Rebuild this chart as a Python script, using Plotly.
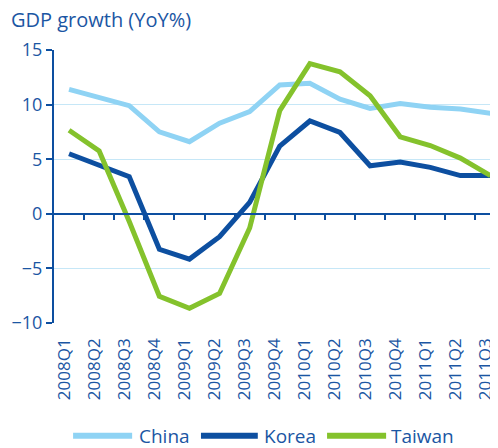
import plotly.graph_objects as go

quarters = ["2008Q1", "2008Q2", "2008Q3", "2008Q4", "2009Q1", "2009Q2", "2009Q3", "2009Q4",
            "2010Q1", "2010Q2", "2010Q3", "2010Q4", "2011Q1", "2011Q2", "2011Q3"]
china = [11.4, 10.7, 9.9, 7.5, 6.6, 8.3, 9.35, 11.8, 11.95, 10.5, 9.65, 10.1, 9.75, 9.6, 9.2]
korea = [5.5, 4.4, 3.4, -3.25, -4.15, -2.1, 1.05, 6.2, 8.5, 7.45, 4.4, 4.75, 4.25, 3.5, 3.5]
taiwan = [7.65, 5.75, -0.7, -7.55, -8.65, -7.3, -1.3, 9.45, 13.75, 13.0, 10.8, 7.05, 6.25, 5.1, 3.5]
yticks = [-10, -5, 0, 5, 10, 15]
series_names = ["China", "Korea", "Taiwan"]

DARK = "#0d4fa0"
TEXT = "#1b56a3"
LIGHT = "#8fd3f4"
GREEN = "#84c22c"
GRID = "#c6e7f7"
FONT = "Open Sans"
colors = [LIGHT, DARK, GREEN]

xi = list(range(len(quarters)))

fig = go.Figure()
fig.add_trace(go.Scatter(x=xi, y=china, name=series_names[0], mode="lines",
                         line=dict(color=colors[0], width=5), showlegend=False))
fig.add_trace(go.Scatter(x=xi, y=korea, name=series_names[1], mode="lines",
                         line=dict(color=colors[1], width=5), showlegend=False))
fig.add_trace(go.Scatter(x=xi, y=taiwan, name=series_names[2], mode="lines", xaxis="x2",
                         line=dict(color=colors[2], width=5), showlegend=False))

# custom legend (long line keys like the reference)
leg_y = -0.413
key_spans = [(0.043, 0.176, 0.187), (0.331, 0.459, 0.468), (0.615, 0.748, 0.755)]
for nm, col, (x0, x1, xt) in zip(series_names, colors, key_spans):
    fig.add_shape(type="line", xref="paper", yref="paper", x0=x0, x1=x1, y0=leg_y, y1=leg_y,
                  line=dict(color=col, width=6))
    fig.add_annotation(xref="paper", yref="paper", x=xt, y=leg_y, text=nm, showarrow=False,
                       xanchor="left", yanchor="middle",
                       font=dict(size=19, color=TEXT, family=FONT))

xr = [-0.5, 14.25]
fig.update_layout(
    width=490, height=440,
    margin=dict(l=46, r=0, t=42, b=125, autoexpand=False),
    paper_bgcolor="white", plot_bgcolor="white",
    font=dict(family=FONT, color=TEXT),
    title=dict(text="GDP growth (YoY%)", x=0.006, xanchor="left", y=0.988, yanchor="top",
               font=dict(size=20, color=TEXT, family=FONT)),
    showlegend=False,
    xaxis=dict(range=xr, tickmode="array", tickvals=xi, ticktext=quarters,
               tickangle=-90, showgrid=False, showline=False, ticks="",
               zeroline=False, tickfont=dict(size=17, color=TEXT), ticklabelstandoff=11,
               ticklabelshift=-5, ticklabeloverflow="allow"),
    xaxis2=dict(range=xr, overlaying="x", anchor="free", position=0.4, side="bottom",
                showline=True, linecolor=DARK, linewidth=2, ticks="outside",
                tickmode="array", tickvals=[i + 0.5 for i in range(14)],
                ticklen=5, tickwidth=2, tickcolor=DARK, showticklabels=False,
                showgrid=False, zeroline=False),
    yaxis=dict(range=[-10, 15], tickmode="array", tickvals=yticks,
               showgrid=True, gridcolor=GRID, gridwidth=1,
               showline=True, linecolor=DARK, linewidth=2,
               ticks="outside", ticklen=6, tickwidth=2, tickcolor=DARK,
               zeroline=False, tickfont=dict(size=18, color=TEXT)),
)

fig.write_html("out.html")
